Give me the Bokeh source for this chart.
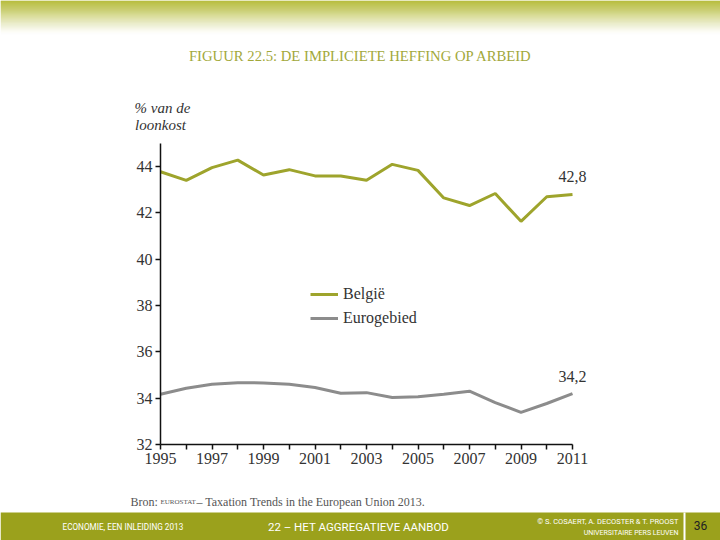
from bokeh.plotting import figure
from bokeh.layouts import column
from bokeh.models import Range1d, Label, FixedTicker, Legend, LegendItem
from bokeh.embed import file_html
from bokeh.resources import INLINE

# ---- data -------------------------------------------------------------
years = list(range(1995, 2012))
belgie = [43.78, 43.41, 43.96, 44.28, 43.64, 43.87, 43.60, 43.60, 43.41,
          44.10, 43.84, 42.65, 42.32, 42.84, 41.64, 42.70, 42.80]
eurogebied = [34.17, 34.43, 34.60, 34.67, 34.66, 34.60, 34.46, 34.21, 34.24,
              34.03, 34.06, 34.17, 34.30, 33.81, 33.39, 33.77, 34.20]
y_ticks = [32, 34, 36, 38, 40, 42, 44]
x_tick_labels = {yr: (str(yr) if yr % 2 == 1 else "") for yr in years}
end_labels = ["42,8", "34,2"]
series_names = ["België", "Eurogebied"]

SERIF = "Liberation Serif"
SANS = "Roboto"
GREEN = "#9ea42c"
GREY = "#8c8c8c"
TXT = "#333333"

W = 720
H_HEAD, H_MAIN, H_FOOT = 138, 342, 60
FL, FR, FT, FB = 160, 600, 143, 444      # page coords of main plot frame
X_PER_YEAR = (572 - 160) / 16.0


def deco_fig(height, top):
    f = figure(width=W, height=height, output_backend="svg",
               toolbar_location=None, x_range=Range1d(0, W),
               y_range=Range1d(top + height, top), min_border=0,
               x_axis_type=None, y_axis_type=None, frame_align=False)
    f.outline_line_color = None
    f.xgrid.visible = False
    f.ygrid.visible = False
    return f


def text(f, x, y, s, size, color=TXT, font=SERIF, align="left",
         style="normal"):
    f.add_layout(Label(x=x, y=y, text=s, text_font=font, text_font_size=size,
                       text_color=color, text_align=align,
                       text_baseline="middle", text_font_style=style))


# ---- header -------------------------------------------------------------
head = deco_fig(H_HEAD, 0)
N = 34
rows = list(range(N))
head.quad(left=[0] * N, right=[W] * N, top=rows, bottom=[r + 1 for r in rows],
          fill_color="#a0a800", fill_alpha=[(1 - r / N) ** 1.4 for r in rows],
          line_color=None)
text(head, 360, 55, "FIGUUR 22.5: DE IMPLICIETE HEFFING OP ARBEID", "14.7px",
     color="#a2a83a", align="center")
text(head, 162, 107, "% van de", "15px", align="center", style="italic")
text(head, 160, 124, "loonkost", "15px", align="center", style="italic")

# ---- main chart ---------------------------------------------------------
p = figure(width=W, height=H_MAIN, output_backend="svg", toolbar_location=None,
           x_range=Range1d(1995, 1995 + (FR - FL) / X_PER_YEAR),
           y_range=Range1d(32, 45), frame_align=False,
           min_border_left=FL, min_border_right=W - FR,
           min_border_top=FT - H_HEAD, min_border_bottom=H_HEAD + H_MAIN - FB)
p.outline_line_color = None
p.xgrid.visible = False
p.ygrid.visible = False

r_be = p.line(years, belgie, line_color=GREEN, line_width=3)
r_eu = p.line(years, eurogebied, line_color=GREY, line_width=3)

for ax in (p.xaxis[0], p.yaxis[0]):
    ax.axis_line_color = "#111111"
    ax.axis_line_width = 1.5
    ax.major_tick_line_color = "#111111"
    ax.major_tick_line_width = 1.5
    ax.minor_tick_line_color = None
    ax.major_label_text_font = SERIF
    ax.major_label_text_font_size = "16px"
    ax.major_label_text_color = TXT
    ax.major_tick_in = 0
    ax.major_tick_out = 5
p.xaxis[0].ticker = FixedTicker(ticks=years)
p.xaxis[0].major_label_overrides = x_tick_labels
p.xaxis[0].major_label_standoff = 3
p.xaxis[0].bounds = (1995, 2011)
p.yaxis[0].ticker = FixedTicker(ticks=y_ticks)
p.yaxis[0].major_label_standoff = 3

legend = Legend(items=[LegendItem(label=series_names[0], renderers=[r_be]),
                       LegendItem(label=series_names[1], renderers=[r_eu])],
                location=(310 - FL, FB - 328),
                border_line_color=None, background_fill_alpha=0,
                label_text_font=SERIF, label_text_font_size="16px",
                label_text_color=TXT, glyph_width=28, glyph_height=20,
                label_height=20, spacing=4, padding=0, margin=0,
                label_standoff=5)
p.add_layout(legend, "center")

p.add_layout(Label(x=years[-1], y=belgie[-1], text=end_labels[0],
                   y_offset=12, text_align="center", text_baseline="bottom",
                   text_font=SERIF, text_font_size="16px", text_color=TXT))
p.add_layout(Label(x=years[-1], y=eurogebied[-1], text=end_labels[1],
                   y_offset=12, text_align="center", text_baseline="bottom",
                   text_font=SERIF, text_font_size="16px", text_color=TXT))

# ---- footer -------------------------------------------------------------
foot = deco_fig(H_FOOT, H_HEAD + H_MAIN)
text(foot, 130, 501, "Bron:", "12px", color="#555555")
text(foot, 160, 501.5, "EUROSTAT", "7px", color="#555555")
text(foot, 196, 501, "– Taxation Trends in the European Union 2013.", "12px",
     color="#555555")
foot.quad(left=[0, 683], right=[W, 685], top=[512, 512], bottom=[540, 540],
          fill_color=["#9ba11c", "white"], line_color=None)
text(foot, 62, 526, "ECONOMIE, EEN INLEIDING 2013", "8.2px", color="white",
     font=SANS)
text(foot, 358, 526, "22 – HET AGGREGATIEVE AANBOD", "11.5px", color="white",
     font=SANS, align="center")
text(foot, 678, 521, "© S. COSAERT, A. DECOSTER & T. PROOST", "7.5px",
     color="white", font=SANS, align="right")
text(foot, 678, 532, "UNIVERSITAIRE PERS LEUVEN", "7px", color="white",
     font=SANS, align="right")
text(foot, 700, 525, "36", "12px", color="#222222", font=SANS, align="center")

layout = column(head, p, foot, spacing=0)
open("out.html", "w").write(file_html(layout, INLINE))
